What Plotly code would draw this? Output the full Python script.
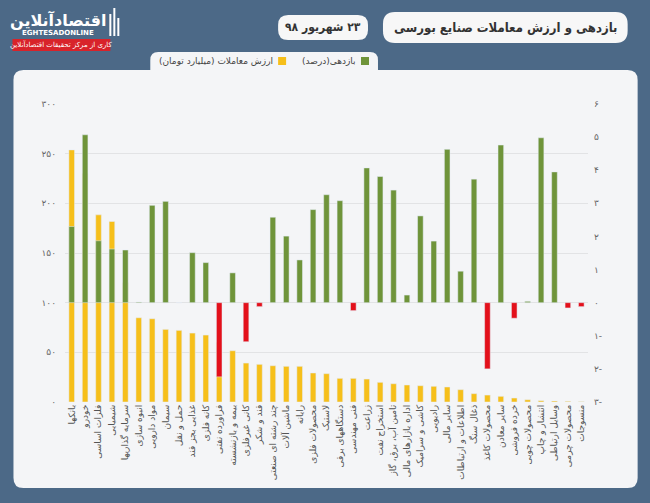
import plotly.graph_objects as go

categories = [
    "بانکها", "خودرو", "فلزات اساسی", "شیمیایی", "سرمایه گذاریها", "انبوه سازی",
    "مواد دارویی", "سیمان", "حمل و نقل", "غذایی بجز قند", "کانه فلزی", "فراورده نفتی",
    "بیمه و بازنشسته", "کانی غیرفلزی", "قند و شکر", "چند رشته ای صنعتی", "ماشین آلات",
    "رایانه", "محصولات فلزی", "لاستیک", "دستگاههای برقی", "فنی مهندسی", "زراعت",
    "استخراج نفت", "تامین آب، برق، گاز", "اداره بازارهای مالی", "کاشی و سرامیک",
    "رادیویی", "سایر مالی", "اطلاعات و ارتباطات", "ذغال سنگ", "محصولات کاغذ",
    "سایر معادن", "خرده فروشی", "محصولات چوبی", "انتشار و چاپ", "وسایل ارتباطی",
    "محصولات چرمی", "منسوجات",
]
trade_value = [
    253.8, 230.0, 188.4, 181.7, 120.0, 84.8, 83.8, 73.1, 72.1, 69.4, 67.4, 60.0,
    51.6, 39.2, 37.9, 36.5, 35.9, 35.9, 29.2, 28.5, 23.8, 23.8, 23.1, 19.8, 18.4,
    17.1, 16.4, 15.8, 15.1, 12.4, 8.4, 7.0, 5.7, 4.0, 2.3, 1.3, 1.0, 0.7, 0.3,
]
returns_pct = [
    2.30, 5.07, 1.87, 1.62, 1.59, 0.02, 2.94, 3.06, 0.0, 1.51, 1.21, -2.24,
    0.90, -1.18, -0.12, 2.58, 2.01, 1.29, 2.81, 3.26, 3.08, -0.24, 4.07, 3.81,
    3.40, 0.23, 2.62, 1.86, 4.63, 0.95, 3.73, -2.00, 4.76, -0.47, 0.04, 4.98,
    3.95, -0.16, -0.12,
]
left_tickvals = [0, 50, 100, 150, 200, 250, 300]
left_ticktext = ["۰", "۵۰", "۱۰۰", "۱۵۰", "۲۰۰", "۲۵۰", "۳۰۰"]
right_tickvals = [-3, -2, -1, 0, 1, 2, 3, 4, 5, 6]
right_ticktext = ["۳-", "۲-", "۱-", "۰", "۱", "۲", "۳", "۴", "۵", "۶"]

title_text = "بازدهی و ارزش معاملات صنایع بورسی"
date_text = "۲۳ شهریور ۹۸"
legend_return = "بازدهی(درصد)"
legend_value = "ارزش معاملات (میلیارد تومان)"

YELLOW = "#f6bf1a"
GREEN = "#6f943a"
RED = "#e3101b"
BG = "#4c6987"
PANEL = "#f4f5f7"
FONT = "DejaVu Sans"
FONT_C = "DejaVu Sans Condensed, DejaVu Sans"
RLM = "\u200F"

W, H = 650, 503
L, R, T, B = 64.6, 588.3, 104, 402


def px(x):
    return (x - L) / (R - L)


def py(y):
    return (B - y) / (B - T)


def rrect(x0, y0, x1, y1, r, top_only=False):
    rx = r / (R - L)
    ry = r / (B - T)
    X0, X1 = px(x0), px(x1)
    Y0, Y1 = py(y0), py(y1)
    if top_only:
        return (f"M{X0},{Y1} L{X0},{Y0-ry} Q{X0},{Y0} {X0+rx},{Y0} "
                f"L{X1-rx},{Y0} Q{X1},{Y0} {X1},{Y0-ry} L{X1},{Y1} Z")
    return (f"M{X0+rx},{Y0} L{X1-rx},{Y0} Q{X1},{Y0} {X1},{Y0-ry} "
            f"L{X1},{Y1+ry} Q{X1},{Y1} {X1-rx},{Y1} L{X0+rx},{Y1} "
            f"Q{X0},{Y1} {X0},{Y1+ry} L{X0},{Y0-ry} Q{X0},{Y0} {X0+rx},{Y0} Z")


def note(x, y, text, size, color, xanchor="center", family=FONT):
    return dict(x=px(x), y=py(y), text=text, showarrow=False, xref="paper", yref="paper",
                xanchor=xanchor, yanchor="middle",
                font=dict(family=family, size=size, color=color))


fig = go.Figure()
fig.add_trace(go.Bar(
    x=categories, y=trade_value, marker_color=YELLOW, width=0.42,
    yaxis="y", name=legend_value, showlegend=False,
))
fig.add_trace(go.Bar(
    x=categories, y=returns_pct, width=0.42,
    marker_color=[GREEN if v >= 0 else RED for v in returns_pct],
    yaxis="y2", name=legend_return, showlegend=False,
))

shapes = [
    dict(type="path", xref="paper", yref="paper", layer="below",
         path=rrect(13, 70, 638, 488, 10), fillcolor=PANEL, line=dict(width=0)),
    dict(type="path", xref="paper", yref="paper", layer="below",
         path=rrect(150, 52, 378, 72, 8, top_only=True), fillcolor=PANEL, line=dict(width=0)),
    dict(type="path", xref="paper", yref="paper", layer="below",
         path=rrect(383, 12, 628, 43, 12), fillcolor="#f7f7f7", line=dict(width=0)),
    dict(type="path", xref="paper", yref="paper", layer="below",
         path=rrect(278, 15, 368, 40, 10), fillcolor="#f7f7f7", line=dict(width=0)),
    dict(type="rect", xref="paper", yref="paper", x0=px(361), x1=px(369), y0=py(65), y1=py(57),
         fillcolor=GREEN, line=dict(width=0)),
    dict(type="rect", xref="paper", yref="paper", x0=px(278), x1=px(286), y0=py(65), y1=py(57),
         fillcolor=YELLOW, line=dict(width=0)),
    dict(type="rect", xref="paper", yref="paper", x0=px(12), x1=px(110), y0=py(51), y1=py(39),
         fillcolor="#d8232a", line=dict(width=0)),
]
for xx, top in [(110, 14), (114, 8), (118, 18)]:
    shapes.append(dict(type="line", xref="paper", yref="paper", x0=px(xx), x1=px(xx),
                       y0=py(top), y1=py(36), line=dict(color="white", width=2)))

annotations = [
    note(506, 28, f"<b>{title_text}</b>", 13, "#333333", family=FONT_C),
    note(323, 27.5, f"<b>{RLM}{date_text}</b>", 12, "#333333", family=FONT_C),
    note(358, 61, legend_return + RLM, 9, "#444444", xanchor="right"),
    note(275, 61, legend_value + RLM, 9, "#444444", xanchor="right"),
    note(58, 20, "<b>اقتصادآنلاین</b>", 16, "white"),
    note(58, 33, "<b>EGHTESADONLINE</b>", 7, "white"),
    note(61, 45, "کاری از مرکز تحقیقات اقتصادآنلاین", 7, "white"),
]

fig.update_layout(
    width=W, height=H,
    margin=dict(l=L, r=W - R, t=T, b=H - B, autoexpand=False),
    paper_bgcolor=BG, plot_bgcolor="rgba(0,0,0,0)",
    barmode="overlay", bargap=0.58,
    font=dict(family=FONT, color="#555555"),
    xaxis=dict(type="category", tickangle=-90, showgrid=False, zeroline=False,
               showline=False, ticks="", tickfont=dict(size=9, color="#555555"),
               range=[-0.5, len(categories) - 0.5]),
    yaxis=dict(range=[0, 300], tickvals=left_tickvals, ticktext=left_ticktext,
               showgrid=True, gridcolor="#e2e3e5", gridwidth=1, zeroline=False,
               showline=False, ticks="", tickfont=dict(size=9, color="#666666"),
               ticklabelstandoff=8),
    yaxis2=dict(range=[-3, 6], tickvals=right_tickvals, ticktext=right_ticktext,
                overlaying="y", side="right", showgrid=False, zeroline=False,
                showline=False, ticks="", tickfont=dict(size=9, color="#666666"),
                ticklabelstandoff=5),
    shapes=shapes, annotations=annotations,
)

fig.write_html("out.html")
